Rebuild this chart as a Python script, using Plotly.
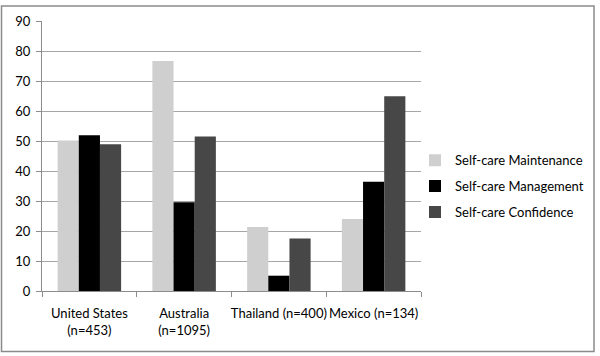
import plotly.graph_objects as go

categories = ["United States<br>(n=453)", "Australia<br>(n=1095)", "Thailand (n=400)", "Mexico (n=134)"]
maintenance = [50.2, 76.7, 21.3, 24.0]
management = [51.9, 29.6, 5.1, 36.4]
confidence = [48.9, 51.5, 17.5, 64.9]
series_names = ["Self-care Maintenance", "Self-care Management", "Self-care Confidence"]
series_colors = ["#cfcfcf", "#000000", "#474747"]
y_ticks = [0, 10, 20, 30, 40, 50, 60, 70, 80, 90]

FONT = "Lato"
FS = 13
fig = go.Figure()
for i, (name, vals, col) in enumerate(zip(series_names, [maintenance, management, confidence], series_colors)):
    fig.add_trace(go.Bar(x=categories, y=vals, name=name, marker_color=col,
                         marker_line_width=0, legendgroup=f"g{i}"))

L, R, T, B = 42, 179, 20.5, 65
W, H = 600, 356
pw, ph = W - L - R, H - T - B

fig.update_layout(
    width=W, height=H,
    margin=dict(l=L, r=R, t=T, b=B, autoexpand=False),
    paper_bgcolor="white", plot_bgcolor="white",
    barmode="group", bargap=0.33, bargroupgap=0,
    font=dict(family=FONT, size=FS, color="#000000"),
    showlegend=True,
    legend=dict(x=(415 - L) / pw, y=(291 - 186) / ph, xanchor="left", yanchor="middle",
                font=dict(family=FONT, size=FS), traceorder="grouped", tracegroupgap=6,
                bgcolor="rgba(0,0,0,0)", itemwidth=30),
    xaxis=dict(showline=True, linecolor="#8c8c8c", linewidth=1, ticks="outside",
               tickson="boundaries", ticklen=5, tickcolor="#8c8c8c", showgrid=False,
               tickangle=0, automargin=False, ticklabelstandoff=10,
               tickfont=dict(family=FONT, size=FS)),
    yaxis=dict(range=[0, 90], tickvals=y_ticks, showline=True, linecolor="#8c8c8c",
               linewidth=1, ticks="outside", ticklen=5, tickcolor="#8c8c8c",
               showgrid=True, gridcolor="#a6a6a6", gridwidth=1, zeroline=False,
               automargin=False, ticklabelstandoff=3,
               tickfont=dict(family=FONT, size=FS)),
    shapes=[dict(type="rect", xref="paper", yref="paper",
                 x0=(1.5 - L) / pw, x1=(594 - L) / pw,
                 y0=(H - B - 351.5) / ph, y1=(H - B - 5.5) / ph,
                 line=dict(color="#8a8a8a", width=1.5), fillcolor="rgba(0,0,0,0)")],
)

fig.write_html("out.html", config={"displayModeBar": False},
               post_script="document.body.style.margin='0';document.body.style.overflow='hidden';")
